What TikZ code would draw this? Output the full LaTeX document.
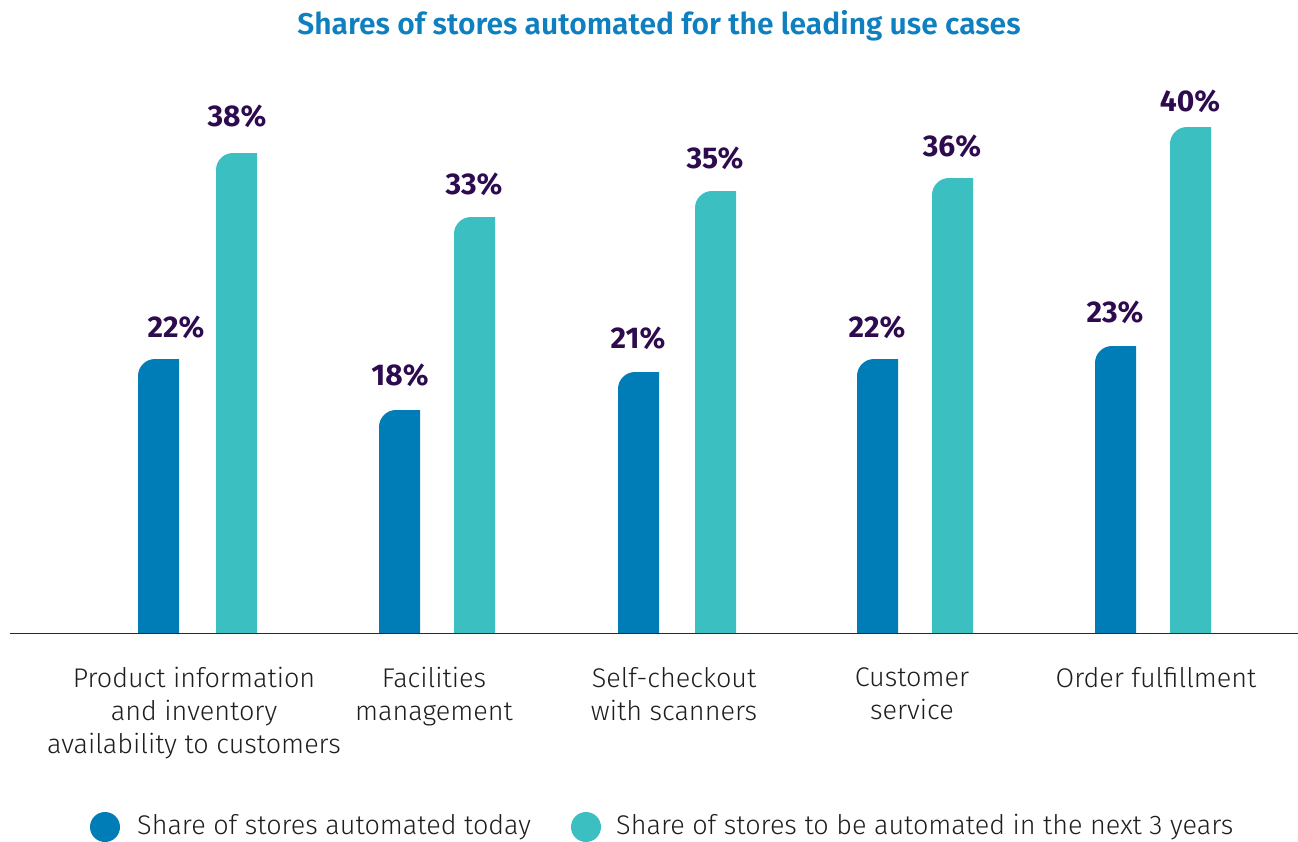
\documentclass[tikz,border=0pt]{standalone}
\usepackage{fontspec}
\setmainfont{Fira Sans}
\newfontfamily\lightfont{Fira Sans Light}
\newfontfamily\semifont{Fira Sans SemiBold}
\definecolor{darkbar}{HTML}{007CB6}
\definecolor{lightbar}{HTML}{3BBFC1}
\definecolor{vallab}{HTML}{2E0B4F}
\definecolor{titleblue}{HTML}{0E7FBF}
\definecolor{axiscol}{HTML}{3D1560}
\definecolor{txt}{HTML}{1E1E1E}
\tikzset{
  valuelabel/.style={font=\fontsize{30}{34}\selectfont\bfseries, text=vallab, inner sep=0},
  catlabel/.style={font=\lightfont\fontsize{27}{33}\selectfont, text=txt, align=center, inner sep=0, anchor=north},
  legendtext/.style={font=\lightfont\fontsize{27}{30}\selectfont, text=txt, anchor=west, inner sep=0},
}
\newcommand{\mybar}[4]{% x1, x2, top, colour
  \fill[#4] (#1,633) [rounded corners=17pt] -- (#1,#3) [sharp corners] -- (#2,#3) -- (#2,633) -- cycle;}
\begin{document}
\begin{tikzpicture}[x=1pt,y=-1pt]
\useasboundingbox (0,0) rectangle (1298,841);
% title
\node[font=\semifont\fontsize{30}{34}\selectfont, text=titleblue, inner sep=0] (title) at (659,26) {Shares of stores automated for the leading use cases};
% bars
\mybar{138}{179}{359}{darkbar}
\mybar{216}{257}{153}{lightbar}
\mybar{379}{420}{410}{darkbar}
\mybar{454}{495}{217}{lightbar}
\mybar{618}{659}{372}{darkbar}
\mybar{695}{736}{191}{lightbar}
\mybar{857}{898}{359}{darkbar}
\mybar{932}{973}{178}{lightbar}
\mybar{1095}{1136}{346}{darkbar}
\mybar{1170}{1211}{127}{lightbar}
% axis
\draw[axiscol, line width=1.3pt] (10,633.5) -- (1298,633.5);
% value labels
\node[valuelabel] (v1a) at (176,327) {22\%};
\node[valuelabel] (v1b) at (237,116) {38\%};
\node[valuelabel] (v2a) at (400,375) {18\%};
\node[valuelabel] (v2b) at (474,184) {33\%};
\node[valuelabel] (v3a) at (638,338) {21\%};
\node[valuelabel] (v3b) at (715,158) {35\%};
\node[valuelabel] (v4a) at (877,327) {22\%};
\node[valuelabel] (v4b) at (952,146) {36\%};
\node[valuelabel] (v5a) at (1115,312) {23\%};
\node[valuelabel] (v5b) at (1190,101) {40\%};
% category labels
\node[catlabel] (c1) at (194,667) {Product information\\and inventory\\availability to customers};
\node[catlabel] (c2) at (434,667) {Facilities\\management};
\node[catlabel] (c3) at (674,667) {Self-checkout\\with scanners};
\node[catlabel] (c4) at (912,667) {Customer\\service};
\node[catlabel] (c5) at (1156,667) {Order fulfillment};
% legend
\fill[darkbar] (105,827) circle (15);
\node[legendtext] (l1) at (137,827) {Share of stores automated today};
\fill[lightbar] (586,827) circle (15);
\node[legendtext] (l2) at (616,827) {Share of stores to be automated in the next 3 years};
\end{tikzpicture}
\end{document}
